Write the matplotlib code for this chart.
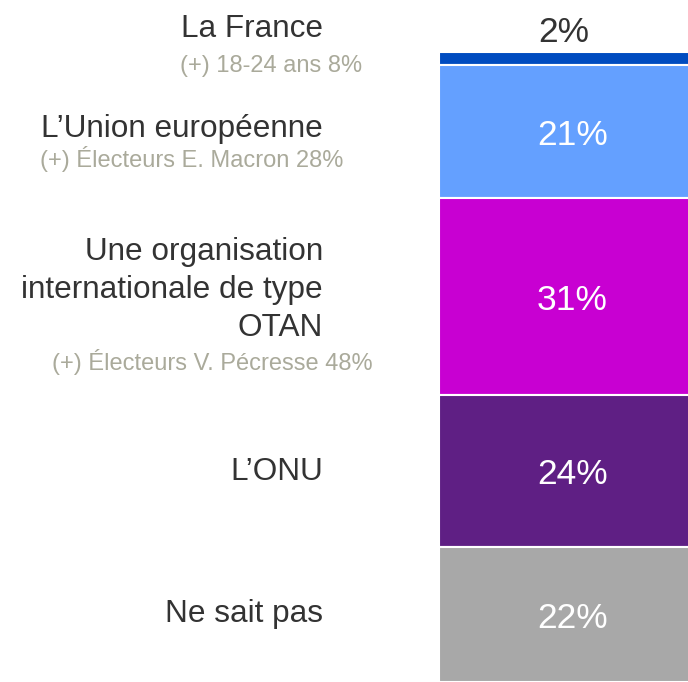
import matplotlib
matplotlib.use("Agg")
import matplotlib.pyplot as plt
from matplotlib.transforms import offset_copy
import numpy as np

# Données
categories = ["La France", "L’Union européenne",
              "Une organisation\ninternationale de type\nOTAN",
              "L’ONU", "Ne sait pas"]
pourcentages = [2, 21, 31, 24, 22]             # valeurs affichées (arrondies)
hauteurs = [2.2, 21.0, 31.4, 24.0, 21.5]       # valeurs non arrondies lues sur la barre
sous_titres = ["(+) 18-24 ans 8%", "(+) Électeurs E. Macron 28%",
               "(+) Électeurs V. Pécresse 48%", "", ""]
couleurs = ["#004CC0", "#64A0FF", "#C800D2", "#5F1F84", "#A8A8A8"]

# Mise en page (pixels, origine en haut à gauche)
W, H = 688, 682
base_label = [37, 137, 260, 480, 622]        # ligne de base, 1re ligne
base_sous = [72, 167, 370, None, None]
droite_sous = [362, 343, 373, None, None]
droite_label = 323
interligne = 38

plt.rcParams["font.family"] = ["Liberation Sans", "DejaVu Sans"]

fig = plt.figure(figsize=(W / 100, H / 100), dpi=100)
ax = fig.add_axes([438.5 / W, 0, 268 / W, 630.5 / H])

bas = np.concatenate([[0], np.cumsum(hauteurs)[:-1]])
ax.bar(0.5, hauteurs, bottom=bas, width=1, color=couleurs,
       edgecolor="white", linewidth=1.5)
ax.set_xlim(0, 1)
ax.set_ylim(sum(hauteurs), 0)
ax.axis("off")

# Étiquettes de pourcentage (ligne de base décalée sous le milieu)
trans = offset_copy(ax.transData, fig=fig, y=-13.5, units="dots")
for i, (p, h, b) in enumerate(zip(pourcentages, hauteurs, bas)):
    if i == 0:
        fig.text(564 / W, 1 - 42 / H, f"{p}%", ha="center", va="baseline",
                 fontsize=25.5, color="#333333")
    else:
        ax.text(0.5, b + h / 2, f"{p}%", ha="center", va="baseline",
                fontsize=25.5, color="white", transform=trans)

# Étiquettes des catégories
for i, cat in enumerate(categories):
    for j, ligne in enumerate(cat.split("\n")):
        y = base_label[i] + j * interligne
        fig.text(droite_label / W, 1 - y / H, ligne, ha="right",
                 va="baseline", fontsize=22.7, color="#333333")
    if sous_titres[i]:
        fig.text(droite_sous[i] / W, 1 - base_sous[i] / H, sous_titres[i],
                 ha="right", va="baseline", fontsize=17, color="#AAAA9B")

plt.savefig("out.png", dpi=100)
